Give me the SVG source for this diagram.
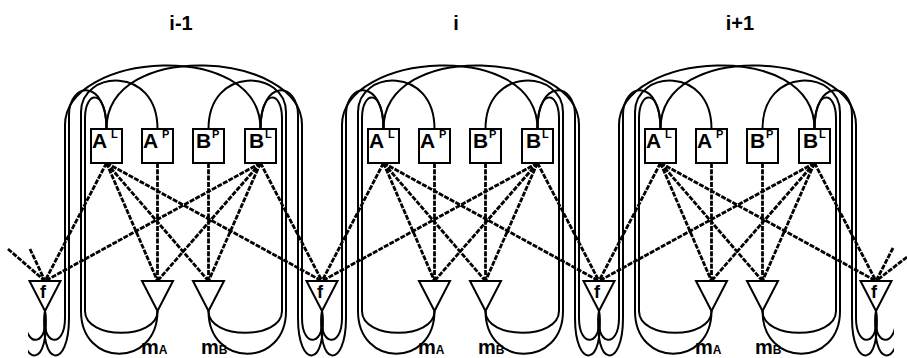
<svg xmlns="http://www.w3.org/2000/svg" width="907" height="358" viewBox="0 0 907 358">
<style>
.bx{fill:#fff;stroke:#000;stroke-width:2}
.tr{fill:#fff;stroke:#000;stroke-width:2}
.c{fill:none;stroke:#000;stroke-width:2}
.d{fill:none;stroke:#000;stroke-width:2.8;stroke-dasharray:5 1.3}
text{font-family:"Liberation Sans",Arial,sans-serif;font-weight:bold;fill:#000}
.t{font-size:20px;text-anchor:middle}
.L{font-size:21px}
.s{font-size:11px}
.f{font-size:18px;text-anchor:middle}
.m{font-size:20px}
.ms{font-size:12px}
</style>
<defs>
<clipPath id="cl"><rect x="28" y="290" width="60" height="68"/></clipPath>
<clipPath id="cr"><rect x="830" y="290" width="64" height="68"/></clipPath>
</defs>
<g id="titles">
<text class="t" x="181" y="30">i-1</text>
<text class="t" x="456" y="30">i</text>
<text class="t" x="740" y="30">i+1</text>
</g>
<g id="connectors">
<g transform="translate(91,0)">
<path class="d" d="M15.5,163L-46,281M15.5,163L66.5,281M15.5,163L117.5,281M15.5,163L231,281M169.5,163L-46,281M169.5,163L66.5,281M169.5,163L117.5,281M169.5,163L231,281M66.5,163L66.5,281M117.5,163L117.5,281"/>
<path class="c" d="M-46,311C-51,346 -26,350 -26,318L-26,125C-26,52 169.5,38 169.5,129"/>
<path class="c" d="M-46,311C-52,368 -22,370 -22,318L-22,115C-22,82 15.5,78 15.5,129"/>
<path class="c" d="M66.5,311C66.5,368 -10,368 -10,311L-10,112C-10,70 66.5,65 66.5,129"/>
<path class="c" d="M66.5,311C66.5,340 -6,340 -6,311L-6,118C-6,90 15.5,88 15.5,129"/>
<path class="c" d="M231,311C236,346 211,350 211,318L211,125C211,52 15.5,38 15.5,129"/>
<path class="c" d="M231,311C237,368 207,370 207,318L207,115C207,82 169.5,78 169.5,129"/>
<path class="c" d="M117.5,311C117.5,368 195,368 195,311L195,112C195,70 117.5,65 117.5,129"/>
<path class="c" d="M117.5,311C117.5,340 191,340 191,311L191,118C191,90 169.5,88 169.5,129"/>
</g>
<g transform="translate(368,0)">
<path class="d" d="M15.5,163L-46,281M15.5,163L66.5,281M15.5,163L117.5,281M15.5,163L231,281M169.5,163L-46,281M169.5,163L66.5,281M169.5,163L117.5,281M169.5,163L231,281M66.5,163L66.5,281M117.5,163L117.5,281"/>
<path class="c" d="M-46,311C-51,346 -26,350 -26,318L-26,125C-26,52 169.5,38 169.5,129"/>
<path class="c" d="M-46,311C-52,368 -22,370 -22,318L-22,115C-22,82 15.5,78 15.5,129"/>
<path class="c" d="M66.5,311C66.5,368 -10,368 -10,311L-10,112C-10,70 66.5,65 66.5,129"/>
<path class="c" d="M66.5,311C66.5,340 -6,340 -6,311L-6,118C-6,90 15.5,88 15.5,129"/>
<path class="c" d="M231,311C236,346 211,350 211,318L211,125C211,52 15.5,38 15.5,129"/>
<path class="c" d="M231,311C237,368 207,370 207,318L207,115C207,82 169.5,78 169.5,129"/>
<path class="c" d="M117.5,311C117.5,368 195,368 195,311L195,112C195,70 117.5,65 117.5,129"/>
<path class="c" d="M117.5,311C117.5,340 191,340 191,311L191,118C191,90 169.5,88 169.5,129"/>
</g>
<g transform="translate(645,0)">
<path class="d" d="M15.5,163L-46,281M15.5,163L66.5,281M15.5,163L117.5,281M15.5,163L231,281M169.5,163L-46,281M169.5,163L66.5,281M169.5,163L117.5,281M169.5,163L231,281M66.5,163L66.5,281M117.5,163L117.5,281"/>
<path class="c" d="M-46,311C-51,346 -26,350 -26,318L-26,125C-26,52 169.5,38 169.5,129"/>
<path class="c" d="M-46,311C-52,368 -22,370 -22,318L-22,115C-22,82 15.5,78 15.5,129"/>
<path class="c" d="M66.5,311C66.5,368 -10,368 -10,311L-10,112C-10,70 66.5,65 66.5,129"/>
<path class="c" d="M66.5,311C66.5,340 -6,340 -6,311L-6,118C-6,90 15.5,88 15.5,129"/>
<path class="c" d="M231,311C236,346 211,350 211,318L211,125C211,52 15.5,38 15.5,129"/>
<path class="c" d="M231,311C237,368 207,370 207,318L207,115C207,82 169.5,78 169.5,129"/>
<path class="c" d="M117.5,311C117.5,368 195,368 195,311L195,112C195,70 117.5,65 117.5,129"/>
<path class="c" d="M117.5,311C117.5,340 191,340 191,311L191,118C191,90 169.5,88 169.5,129"/>
</g>
<path class="d" d="M8,249L45,281M30,249L45,281M893,248L876,281M907,257L876,281"/>
<g clip-path="url(#cl)">
<path class="c" d="M45,311C50,346 25,350 25,318"/>
<path class="c" d="M45,311C51,368 21,370 21,318"/>
</g>
<g clip-path="url(#cr)">
<path class="c" d="M876,311C871,346 896,350 896,318"/>
<path class="c" d="M876,311C870,368 900,370 900,318"/>
</g>
</g>
<g id="AL-im1"><rect class="bx" x="91" y="129" width="31" height="34"/><text class="L" x="92" y="148">A</text><text class="s" x="111" y="138">L</text></g>
<g id="AP-im1"><rect class="bx" x="142" y="129" width="31" height="34"/><text class="L" x="143" y="148">A</text><text class="s" x="162" y="138">P</text></g>
<g id="BP-im1"><rect class="bx" x="193" y="129" width="31" height="34"/><text class="L" x="196" y="148">B</text><text class="s" x="212" y="138">P</text></g>
<g id="BL-im1"><rect class="bx" x="245" y="129" width="31" height="34"/><text class="L" x="249" y="148">B</text><text class="s" x="265" y="138">L</text></g>
<g id="AL-i"><rect class="bx" x="368" y="129" width="31" height="34"/><text class="L" x="369" y="148">A</text><text class="s" x="388" y="138">L</text></g>
<g id="AP-i"><rect class="bx" x="419" y="129" width="31" height="34"/><text class="L" x="420" y="148">A</text><text class="s" x="439" y="138">P</text></g>
<g id="BP-i"><rect class="bx" x="470" y="129" width="31" height="34"/><text class="L" x="473" y="148">B</text><text class="s" x="489" y="138">P</text></g>
<g id="BL-i"><rect class="bx" x="522" y="129" width="31" height="34"/><text class="L" x="526" y="148">B</text><text class="s" x="542" y="138">L</text></g>
<g id="AL-ip1"><rect class="bx" x="645" y="129" width="31" height="34"/><text class="L" x="646" y="148">A</text><text class="s" x="665" y="138">L</text></g>
<g id="AP-ip1"><rect class="bx" x="696" y="129" width="31" height="34"/><text class="L" x="697" y="148">A</text><text class="s" x="716" y="138">P</text></g>
<g id="BP-ip1"><rect class="bx" x="747" y="129" width="31" height="34"/><text class="L" x="750" y="148">B</text><text class="s" x="766" y="138">P</text></g>
<g id="BL-ip1"><rect class="bx" x="799" y="129" width="31" height="34"/><text class="L" x="803" y="148">B</text><text class="s" x="819" y="138">L</text></g>
<g id="f0"><polygon class="tr" points="29.5,281 60.5,281 45,311"/><text class="f" x="43" y="298">f</text></g>
<g id="f1"><polygon class="tr" points="306.5,281 337.5,281 322,311"/><text class="f" x="320" y="298">f</text></g>
<g id="f2"><polygon class="tr" points="583.5,281 614.5,281 599,311"/><text class="f" x="597" y="298">f</text></g>
<g id="f3"><polygon class="tr" points="860.5,281 891.5,281 876,311"/><text class="f" x="874" y="298">f</text></g>
<g id="mA-im1"><polygon class="tr" points="142,281 173,281 157.5,311"/><text class="m" x="141" y="354">m<tspan class="ms">A</tspan></text></g>
<g id="mB-im1"><polygon class="tr" points="193,281 224,281 208.5,311"/><text class="m" x="201" y="354">m<tspan class="ms">B</tspan></text></g>
<g id="mA-i"><polygon class="tr" points="419,281 450,281 434.5,311"/><text class="m" x="418" y="354">m<tspan class="ms">A</tspan></text></g>
<g id="mB-i"><polygon class="tr" points="470,281 501,281 485.5,311"/><text class="m" x="478" y="354">m<tspan class="ms">B</tspan></text></g>
<g id="mA-ip1"><polygon class="tr" points="696,281 727,281 711.5,311"/><text class="m" x="695" y="354">m<tspan class="ms">A</tspan></text></g>
<g id="mB-ip1"><polygon class="tr" points="747,281 778,281 762.5,311"/><text class="m" x="755" y="354">m<tspan class="ms">B</tspan></text></g>
</svg>
